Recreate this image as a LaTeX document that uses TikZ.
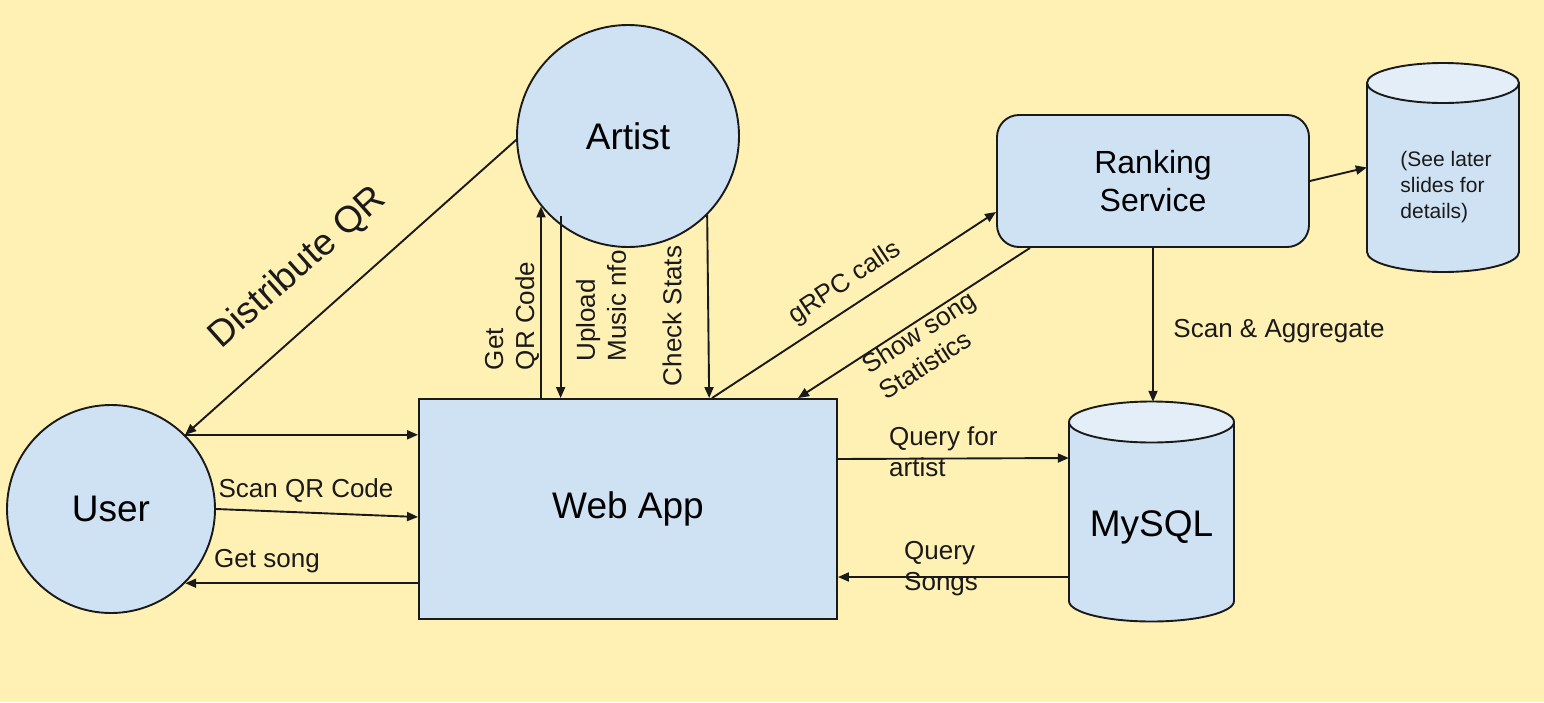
\documentclass[tikz,border=0pt]{standalone}
\usepackage{fontspec}
\setmainfont{Liberation Sans}
\usetikzlibrary{arrows.meta}
\definecolor{bg}{HTML}{FFF0B3}
\definecolor{nodefill}{HTML}{CFE2F3}
\definecolor{cyltop}{HTML}{E3EEF9}
\definecolor{ink}{HTML}{1A1A1A}
\begin{document}
\begin{tikzpicture}[x=1pt,y=1pt,
  big/.style={font=\fontsize{37}{42}\selectfont},
  mid/.style={font=\fontsize{32}{38}\selectfont},
  tiny/.style={font=\fontsize{21}{26}\selectfont},
  lbl/.style={font=\fontsize{26}{31}\selectfont, text=ink, inner sep=0pt},
  bigl/.style={font=\fontsize{37}{42}\selectfont, text=ink, inner sep=0pt},
  shapeline/.style={draw=ink, line width=1.9pt},
  arr/.style={-{Triangle[length=11pt,width=9pt]}, line width=1.9pt, draw=ink},
  ]
\fill[bg] (0,0) rectangle (1544,-702);
\useasboundingbox (0,0) rectangle (1544,-702);

% main nodes
\node[circle, shapeline, fill=nodefill, minimum size=208pt, inner sep=0pt, big] (user) at (111,-509) {User};
\node[circle, shapeline, fill=nodefill, minimum size=222pt, inner sep=0pt, big] (artist) at (628,-136) {Artist};
\node[rectangle, shapeline, fill=nodefill, minimum width=418pt, minimum height=220pt, big] (webapp) at (628,-509) {Web App};
\node[rectangle, rounded corners=22pt, shapeline, fill=nodefill, minimum width=312pt, minimum height=132pt, align=center, mid] (ranking) at (1153,-181) {Ranking\\Service};

% MySQL cylinder
\path[shapeline, fill=nodefill] (1069,-422) -- (1069,-601) arc[start angle=180,end angle=360,x radius=82.5,y radius=20.5] -- (1234,-422) -- cycle;
\draw[shapeline, fill=cyltop] (1151.5,-422) ellipse[x radius=82.5, y radius=20.5];
\node[minimum width=165pt, minimum height=220pt, inner sep=0pt,
      label={[big, yshift=-15pt]center:MySQL}] (mysql) at (1151.5,-512) {};

% small storage cylinder
\path[shapeline, fill=nodefill] (1367,-83) -- (1367,-252) arc[start angle=180,end angle=360,x radius=76,y radius=20] -- (1519,-83) -- cycle;
\draw[shapeline, fill=cyltop] (1443,-83) ellipse[x radius=76, y radius=20];
\node[minimum width=152pt, minimum height=209pt, inner sep=0pt,
      label={[tiny, align=left, text=ink, xshift=3pt, yshift=-20pt]center:{(See later\\slides for\\details)}}] (store) at (1443,-167.5) {};

% connectors
\draw[arr] (artist.182) -- (user.45);
\draw[arr] (user.45) -- (webapp.west |- user.45);
\draw[arr] (user.east) -- ([yshift=-8pt]webapp.west);
\draw[arr] (webapp.west |- user.-45) -- (user.-45);
\draw[arr] (artist.219 |- webapp.north) -- (artist.219);
\draw[arr] ([yshift=9pt]artist.233) -- (artist.233 |- webapp.north);
\draw[arr] (artist.-45) -- ([xshift=2pt]artist.-45 |- webapp.north);
\draw[arr] ([xshift=84pt]webapp.north) -- ([yshift=-31pt]ranking.west);
\draw[arr] ([xshift=-123pt]ranking.south) -- ([xshift=170pt]webapp.north);
\draw[arr] (ranking.south) -- (ranking.south |- mysql.north);
\draw[arr] (ranking.east) -- (store.west);
\draw[arr] ([yshift=50pt]webapp.east) -- ([yshift=54pt]mysql.west);
\draw[arr] ([yshift=-65pt]mysql.west) coordinate (qs) -- (webapp.east |- qs);

% labels
\node[bigl, rotate=41.7] (ldist) at (298,-268) {Distribute QR};
\node[lbl, rotate=90, align=left] (lgetqr) at (512,-316) {Get\\QR Code};
\node[lbl, rotate=90, align=left] (lupload) at (601,-306) {Upload\\Music nfo};
\node[lbl, rotate=90] (lcheck) at (672,-316) {Check Stats};
\node[lbl, rotate=33.6] (lgrpc) at (845,-283) {gRPC calls};
\node[lbl, rotate=32.9, align=left] (lshow) at (927,-345) {Show song\\Statistics};
\node[lbl] (lscanagg) at (1279,-331) {Scan \& Aggregate};
\node[lbl] (lscanqr) at (306,-491) {Scan QR Code};
\node[lbl] (lgetsong) at (267,-561) {Get song};
\node[lbl, align=left, anchor=west] (lqartist) at (889,-452) {Query for\\artist};
\node[lbl, align=left, anchor=west] (lqsongs) at (904,-569) {Query\\Songs};
\end{tikzpicture}
\end{document}
